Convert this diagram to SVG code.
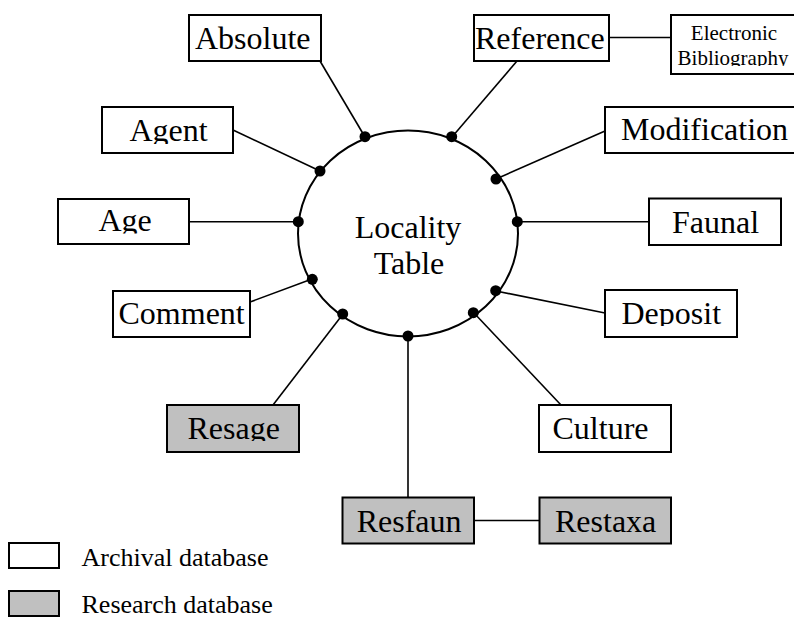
<svg xmlns="http://www.w3.org/2000/svg" width="794" height="618" viewBox="0 0 794 618">
<style>
  .box { stroke: #000; stroke-width: 2; fill: #fff; }
  .res { fill: #c0c0c0; }
  .lbl { font-family: "Liberation Serif", "Times New Roman", serif; font-size: 32px; fill: #000; }
  .small { font-family: "Liberation Serif", "Times New Roman", serif; font-size: 21px; fill: #000; }
  .leg { font-family: "Liberation Serif", "Times New Roman", serif; font-size: 26px; fill: #000; }
  .conn line { stroke: #000; stroke-width: 1.6; }
  .dot { fill: #000; }
</style>
<defs>
  <clipPath id="cAgent"><rect x="102" y="107" width="131" height="37"/></clipPath>
  <clipPath id="cAge"><rect x="58" y="199" width="131" height="34.5"/></clipPath>
  <clipPath id="cDeposit"><rect x="605" y="290" width="132" height="36"/></clipPath>
  <clipPath id="cResage"><rect x="167" y="405" width="132" height="36"/></clipPath>
  <clipPath id="cBib"><rect x="671" y="15" width="125" height="51"/></clipPath>
</defs>
<rect width="794" height="618" fill="#fff"/>

<g id="connectors" class="conn">
  <line x1="320" y1="61" x2="365" y2="137"/>
  <line x1="517" y1="61" x2="452" y2="137"/>
  <line x1="609" y1="37.5" x2="671" y2="37.5"/>
  <line x1="233" y1="130" x2="320" y2="171"/>
  <line x1="605" y1="131" x2="496" y2="179"/>
  <line x1="189" y1="221.7" x2="298" y2="221.7"/>
  <line x1="517" y1="221.7" x2="649" y2="221.7"/>
  <line x1="250" y1="302" x2="312" y2="279"/>
  <line x1="605" y1="313" x2="496" y2="291"/>
  <line x1="273" y1="405" x2="343" y2="314"/>
  <line x1="561" y1="405" x2="474" y2="313"/>
  <line x1="408" y1="336" x2="408" y2="497"/>
  <line x1="474" y1="520.5" x2="539" y2="520.5"/>
</g>

<g id="locality">
  <ellipse cx="408" cy="233.5" rx="110" ry="103" fill="#fff" stroke="#000" stroke-width="2"/>
  <text class="lbl" x="408" y="238" text-anchor="middle">Locality</text>
  <text class="lbl" x="409" y="274" text-anchor="middle">Table</text>
  <circle class="dot" cx="365" cy="136.7" r="5.5"/>
  <circle class="dot" cx="451.7" cy="136.7" r="5.5"/>
  <circle class="dot" cx="320" cy="171" r="5.5"/>
  <circle class="dot" cx="496" cy="179" r="5.5"/>
  <circle class="dot" cx="298.3" cy="221.7" r="5.5"/>
  <circle class="dot" cx="517.3" cy="221.7" r="5.5"/>
  <circle class="dot" cx="312.3" cy="279.3" r="5.5"/>
  <circle class="dot" cx="495.7" cy="290.7" r="5.5"/>
  <circle class="dot" cx="342.7" cy="314" r="5.5"/>
  <circle class="dot" cx="473.3" cy="312.7" r="5.5"/>
  <circle class="dot" cx="408" cy="336" r="5.5"/>
</g>

<g id="absolute">
  <rect class="box" x="189" y="15" width="132" height="46"/>
  <text class="lbl" x="195" y="49">Absolute</text>
</g>
<g id="reference">
  <rect class="box" x="474" y="15" width="135" height="46"/>
  <text class="lbl" x="475" y="49">Reference</text>
</g>
<g id="electronic-bibliography">
  <rect class="box" x="671" y="15" width="125" height="59"/>
  <text class="small" x="734" y="39.5" text-anchor="middle">Electronic</text>
  <text class="small" x="733" y="64.5" text-anchor="middle" clip-path="url(#cBib)">Bibliography</text>
</g>
<g id="agent">
  <rect class="box" x="102" y="107" width="131" height="46"/>
  <text class="lbl" x="129.5" y="141" clip-path="url(#cAgent)">Agent</text>
</g>
<g id="modification">
  <rect class="box" x="605" y="107" width="191" height="46"/>
  <text class="lbl" x="621" y="140">Modification</text>
</g>
<g id="age">
  <rect class="box" x="58" y="199" width="131" height="45"/>
  <text class="lbl" x="98.5" y="231" clip-path="url(#cAge)">Age</text>
</g>
<g id="faunal">
  <rect class="box" x="649" y="198.5" width="132" height="46.5"/>
  <text class="lbl" x="672" y="232.5">Faunal</text>
</g>
<g id="comment">
  <rect class="box" x="113" y="291" width="137" height="46"/>
  <text class="lbl" x="118.5" y="324">Comment</text>
</g>
<g id="deposit">
  <rect class="box" x="605" y="290" width="132" height="47"/>
  <text class="lbl" x="621.5" y="324.3" clip-path="url(#cDeposit)">Deposit</text>
</g>
<g id="resage">
  <rect class="box res" x="167" y="405" width="132" height="47"/>
  <text class="lbl" x="187.5" y="439.3" clip-path="url(#cResage)">Resage</text>
</g>
<g id="culture">
  <rect class="box" x="539" y="405" width="132" height="47"/>
  <text class="lbl" x="552.5" y="439.3">Culture</text>
</g>
<g id="resfaun">
  <rect class="box res" x="342.5" y="497.5" width="131.5" height="46"/>
  <text class="lbl" x="356.7" y="531.5">Resfaun</text>
</g>
<g id="restaxa">
  <rect class="box res" x="539.5" y="497.5" width="131.5" height="46"/>
  <text class="lbl" x="555" y="531.5">Restaxa</text>
</g>

<g id="legend">
  <rect class="box" x="9" y="543" width="50" height="25"/>
  <text class="leg" x="81.5" y="565.5">Archival database</text>
  <rect class="box res" x="9" y="591" width="50" height="25"/>
  <text class="leg" x="81.5" y="612.5">Research database</text>
</g>
</svg>
